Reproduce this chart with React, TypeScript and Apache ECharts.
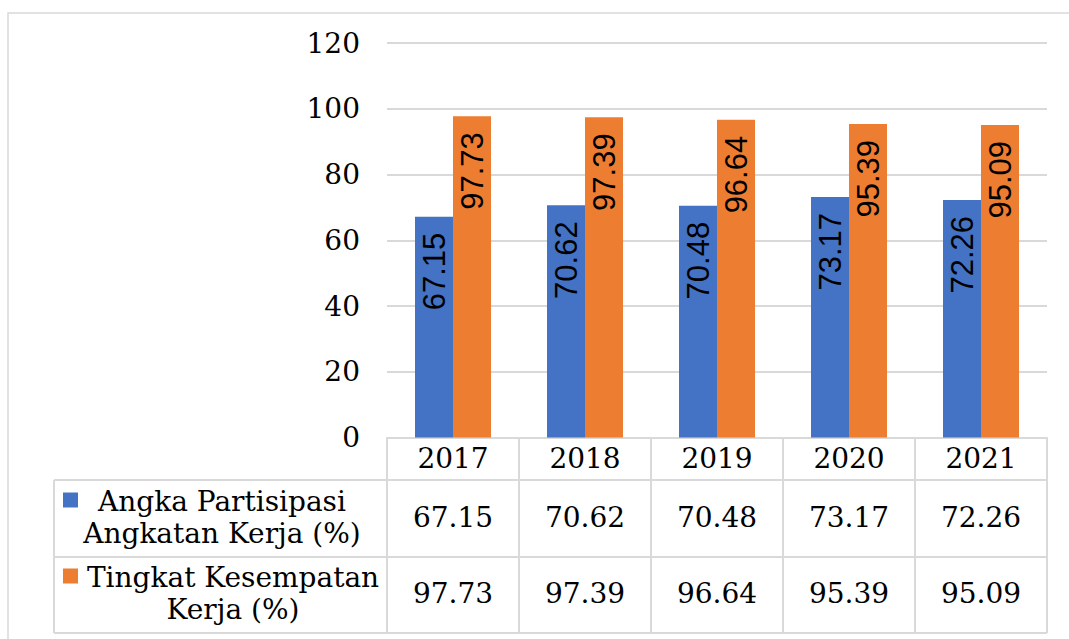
import React, { useEffect, useRef } from "react";
import * as echarts from "echarts";

const categories = ["2017", "2018", "2019", "2020", "2021"];
const apakValues = [67.15, 70.62, 70.48, 73.17, 72.26];
const tkkValues = [97.73, 97.39, 96.64, 95.39, 95.09];
const seriesNames = ["Angka Partisipasi Angkatan Kerja (%)", "Tingkat Kesempatan Kerja (%)"];
const rowLabelLines = [
  ["Angka Partisipasi", "Angkatan Kerja (%)"],
  ["Tingkat Kesempatan", "Kerja (%)"],
];
const yMin = 0;
const yMax = 120;
const yInterval = 20;

const BLUE = "#4472C4";
const ORANGE = "#ED7D31";
const GRID_COLOR = "#d9d9d9";
const SERIF = '"DejaVu Serif", serif';
const SANS = '"Liberation Sans", Arial, sans-serif';
const SERIF_SIZE = 28;

export default function App() {
  const ref = useRef<HTMLDivElement>(null);

  useEffect(() => {
    if (!ref.current) return;
    const chart = echarts.init(ref.current, undefined, { renderer: "svg" });

    const gridLeft = 387;
    const gridTop = 43;
    const gridWidth = 660;
    const gridHeight = 394.5;
    const axisY = gridTop + gridHeight;
    const tableLeft = 54;
    const rowTops = [480, 557, 633];
    const tableRight = gridLeft + gridWidth;

    const valueAxis = (data: string[], margin: number) => ({
      type: "category",
      data,
      gridIndex: 0,
      position: "bottom",
      axisLine: { show: false },
      axisTick: { show: false },
      splitLine: { show: false },
      axisLabel: {
        interval: 0,
        margin,
        verticalAlign: "middle",
        fontFamily: SERIF,
        fontSize: SERIF_SIZE,
        color: "#000",
      },
    });

    const barLabel = {
      show: true,
      position: "insideTop",
      rotate: 90,
      align: "right",
      verticalAlign: "middle",
      distance: 16,
      fontFamily: SANS,
      fontSize: 31,
      color: "#000",
      formatter: (p: any) => Number(p.value).toFixed(2),
    };

    const lines: any[] = [];
    rowTops.forEach((y) => {
      lines.push({
        type: "line",
        shape: { x1: tableLeft, y1: y, x2: tableRight, y2: y },
        style: { stroke: GRID_COLOR, lineWidth: 2 },
        silent: true,
      });
    });
    lines.push({
      type: "line",
      shape: { x1: tableLeft, y1: rowTops[0], x2: tableLeft, y2: rowTops[2] },
      style: { stroke: GRID_COLOR, lineWidth: 2 },
      silent: true,
    });

    const legendColors = [BLUE, ORANGE];
    const rowCenters = [517, 593];
    const textCenters = [222, 233];
    const legendItems: any[] = [];
    rowLabelLines.forEach((ls, i) => {
      legendItems.push({
        type: "rect",
        shape: { x: 63, y: rowCenters[i] - 24.5, width: 15, height: 15 },
        style: { fill: legendColors[i] },
        silent: true,
      });
      legendItems.push({
        type: "text",
        x: textCenters[i],
        y: rowCenters[i],
        style: {
          text: ls.join("\n"),
          textAlign: "center",
          textVerticalAlign: "middle",
          font: `${SERIF_SIZE}px ${SERIF}`,
          lineHeight: 32,
          fill: "#000",
        },
        silent: true,
      });
    });

    chart.setOption({
      animation: false,
      backgroundColor: "#fff",
      grid: { left: gridLeft, top: gridTop, width: gridWidth, height: gridHeight },
      xAxis: [
        {
          type: "category",
          data: categories,
          gridIndex: 0,
          position: "bottom",
          axisLine: { show: true, lineStyle: { color: GRID_COLOR, width: 2 } },
          axisTick: {
            show: true,
            length: rowTops[2] - axisY,
            lineStyle: { color: GRID_COLOR, width: 2 },
          },
          splitLine: { show: false },
          axisLabel: {
            interval: 0,
            margin: 21,
            verticalAlign: "middle",
            fontFamily: SERIF,
            fontSize: SERIF_SIZE,
            color: "#000",
          },
        },
        valueAxis(apakValues.map((v) => v.toFixed(2)), 80),
        valueAxis(tkkValues.map((v) => v.toFixed(2)), 156),
      ],
      yAxis: {
        type: "value",
        min: yMin,
        max: yMax,
        interval: yInterval,
        axisLine: { show: false },
        axisTick: { show: false },
        splitLine: { lineStyle: { color: GRID_COLOR, width: 2 } },
        axisLabel: {
          margin: 27,
          fontFamily: SERIF,
          fontSize: SERIF_SIZE,
          color: "#000",
        },
      },
      series: [
        {
          name: seriesNames[0],
          type: "bar",
          xAxisIndex: 0,
          data: apakValues,
          barWidth: 38,
          barGap: "0%",
          itemStyle: { color: BLUE },
          label: barLabel,
        },
        {
          name: seriesNames[1],
          type: "bar",
          xAxisIndex: 0,
          data: tkkValues,
          barWidth: 38,
          barGap: "0%",
          itemStyle: { color: ORANGE },
          label: barLabel,
        },
      ],
      graphic: [
        {
          type: "rect",
          shape: { x: 8, y: 13, width: 1200, height: 800 },
          style: { fill: "none", stroke: GRID_COLOR, lineWidth: 1.5 },
          silent: true,
          z: -1,
        },
        ...lines,
        ...legendItems,
      ],
    });

    return () => chart.dispose();
  }, []);

  return (
    <div
      ref={ref}
      style={{ position: "absolute", left: 0, top: 0, width: 1069, height: 639 }}
    />
  );
}
